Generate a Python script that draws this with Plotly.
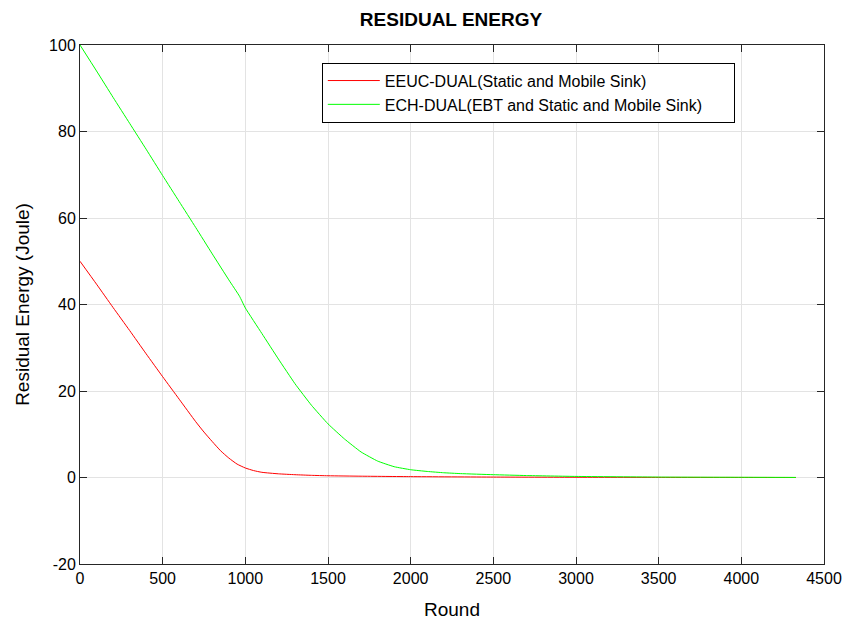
import plotly.graph_objects as go

# Residual energy per round for the two protocols
eeuc_rounds = [0, 100, 200, 300, 400, 500, 600, 700, 750, 800, 850, 900, 950, 1000,
               1050, 1100, 1200, 1300, 1400, 1500, 1700, 2000, 2500, 3000, 3500, 4000, 4330]
eeuc_energy = [50, 44.7, 39.3, 34.0, 28.6, 23.3, 18.1, 12.9, 10.5, 8.3, 6.2, 4.5, 3.1, 2.2,
               1.6, 1.2, 0.85, 0.65, 0.5, 0.4, 0.3, 0.2, 0.1, 0.05, 0.02, 0.01, 0.0]

ech_rounds = [0, 100, 200, 300, 400, 500, 600, 700, 800, 900, 965, 1000, 1100,
              1200, 1300, 1400, 1500, 1600, 1700, 1800, 1900, 2000, 2100, 2200, 2300,
              2500, 2700, 3000, 3500, 4000, 4330]
ech_energy = [100, 94.0, 87.9, 81.9, 75.9, 69.8, 63.8, 57.8, 51.7, 45.7, 41.9, 39.2, 33.3,
              27.4, 21.7, 16.7, 12.4, 8.9, 5.9, 3.8, 2.5, 1.8, 1.4, 1.1, 0.9,
              0.65, 0.45, 0.25, 0.1, 0.05, 0.02]

x_ticks = list(range(0, 4501, 500))
y_ticks = list(range(-20, 101, 20))
y_tick_text = [str(v) for v in y_ticks]  # plain hyphen for negatives

font_family = "Liberation Sans, Arial, sans-serif"
pad = "\u00a0" * 6

fig = go.Figure()
fig.add_trace(go.Scatter(
    x=eeuc_rounds, y=eeuc_energy, mode="lines",
    name="EEUC-DUAL(Static and Mobile Sink)",
    line=dict(color="#ff0000", width=1, shape="spline", smoothing=0.5),
))
fig.add_trace(go.Scatter(
    x=ech_rounds, y=ech_energy, mode="lines",
    name="ECH-DUAL(EBT and Static and Mobile Sink)" + pad,
    line=dict(color="#00ff00", width=1, shape="spline", smoothing=0.4),
))

axis_common = dict(
    showline=True, linecolor="#262626", linewidth=1, mirror="ticks",
    ticks="inside", ticklen=7, tickcolor="#262626",
    showgrid=True, gridcolor="#e3e3e3", gridwidth=1,
    zeroline=False, automargin=False,
    tickfont=dict(size=16, color="#000000", family=font_family),
)

fig.update_layout(
    width=856, height=622,
    margin=dict(l=80, r=32, t=45, b=58),
    paper_bgcolor="white", plot_bgcolor="white",
    font=dict(family=font_family, color="#000000"),
    title=dict(text="<b>RESIDUAL ENERGY</b>", x=451 / 856, xanchor="center",
               y=1 - 19 / 622, yanchor="middle",
               font=dict(size=19, family=font_family, color="#000000")),
    xaxis=dict(range=[0, 4500], tickvals=x_ticks,
               title=dict(text="Round", font=dict(size=19, family=font_family), standoff=16),
               **axis_common),
    yaxis=dict(range=[-20, 100], tickvals=y_ticks, ticktext=y_tick_text,
               title=dict(text="Residual Energy (Joule)", font=dict(size=19, family=font_family),
                          standoff=14),
               **axis_common),
    legend=dict(x=0.325, y=0.966, xanchor="left", yanchor="top",
                bgcolor="white", bordercolor="#000000", borderwidth=1,
                font=dict(size=16, family=font_family, color="#000000"),
                itemwidth=52, tracegroupgap=2),
    showlegend=True,
)

fig.write_html("out.html")
